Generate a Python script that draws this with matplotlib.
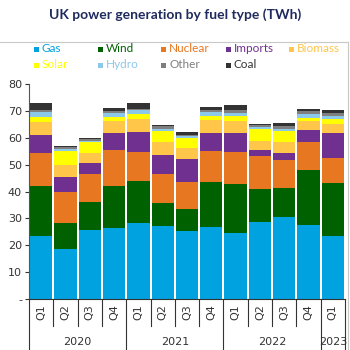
import numpy as np
import matplotlib.pyplot as plt
from matplotlib.patches import Rectangle
from matplotlib.lines import Line2D
import matplotlib.transforms as mtransforms

quarters = ["Q1", "Q2", "Q3", "Q4", "Q1", "Q2", "Q3", "Q4",
            "Q1", "Q2", "Q3", "Q4", "Q1"]
years = ["2020", "2021", "2022", "2023"]
quarters_per_year = [4, 4, 4, 1]

gas = [23.3, 18.7, 25.8, 26.5, 28.3, 27.0, 25.3, 26.7, 24.7, 28.5, 30.6, 27.4, 23.4]
wind = [18.9, 9.7, 10.4, 15.5, 15.5, 8.7, 8.2, 16.7, 18.2, 12.6, 10.8, 20.5, 19.8]
nuclear = [12.2, 11.4, 10.4, 13.4, 10.9, 10.8, 10.2, 11.8, 11.7, 12.0, 10.2, 10.6, 9.1]
imports = [6.6, 5.6, 4.1, 6.4, 7.3, 7.2, 8.4, 6.4, 7.0, 2.5, 2.6, 4.3, 9.5]
biomass = [4.9, 4.6, 3.7, 4.6, 5.0, 4.6, 4.1, 5.1, 4.5, 3.1, 4.1, 3.3, 3.4]
solar = [1.9, 5.2, 3.9, 1.2, 1.8, 4.3, 3.7, 1.5, 1.9, 4.6, 4.3, 1.4, 1.8]
hydro = [1.7, 0.6, 0.6, 1.6, 1.4, 0.8, 0.6, 1.4, 1.2, 0.7, 0.8, 1.2, 1.0]
other = [0.7, 0.6, 0.6, 0.8, 0.6, 0.8, 0.6, 0.8, 1.0, 0.6, 0.8, 1.1, 1.2]
coal = [2.8, 0.4, 0.4, 0.9, 2.0, 0.7, 1.2, 1.0, 2.0, 0.6, 1.2, 1.0, 1.0]

series = [
    ("Gas", gas, "#00A3E0"),
    ("Wind", wind, "#006100"),
    ("Nuclear", nuclear, "#E87722"),
    ("Imports", imports, "#70308F"),
    ("Biomass", biomass, "#FFC649"),
    ("Solar", solar, "#FFFF00"),
    ("Hydro", hydro, "#8CC8EA"),
    ("Other", other, "#7F7F7F"),
    ("Coal", coal, "#333333"),
]

fig = plt.figure(figsize=(3.5, 3.5), dpi=100)
ax = fig.add_axes([29 / 350, 1 - 299 / 350, 316 / 350, 215 / 350])

x = np.arange(len(quarters))
bottom = np.zeros(len(quarters))
for name, vals, col in series:
    ax.bar(x, vals, bottom=bottom, width=0.92, color=col, linewidth=0)
    bottom += np.array(vals)

ax.set_xlim(-0.5, len(quarters) - 0.5)
ax.set_ylim(0, 80)
ax.set_yticks(range(0, 81, 10))
ax.set_yticklabels(["-"] + [str(v) for v in range(10, 81, 10)])
ax.tick_params(axis="y", labelsize=8, colors="#333333", length=3, pad=2)
ax.set_xticks([])
for s in ["top", "right"]:
    ax.spines[s].set_visible(False)
ax.spines["left"].set_color("#555555")
ax.spines["bottom"].set_color("#333333")

# category axis underneath
trans = mtransforms.blended_transform_factory(ax.transData, ax.transAxes)
year_edges = np.concatenate([[0], np.cumsum(quarters_per_year)]) - 0.5
for b in np.arange(len(quarters) + 1) - 0.5:
    low = -0.237 if b in year_edges else -0.126
    ax.add_line(Line2D([b, b], [0, low], transform=trans, color="#333333",
                       lw=0.8, clip_on=False))
for i, q in enumerate(quarters):
    ax.text(i, -0.06, q, transform=trans, rotation=90, ha="center",
            va="center", fontsize=8, color="#333333")
for y, a, b in zip(years, year_edges[:-1], year_edges[1:]):
    ax.text((a + b) / 2, -0.198, y, transform=trans, ha="center",
            va="center", fontsize=8, color="#333333")

# title and frame
fig.text(0.5, 1 - 15 / 350, "UK power generation by fuel type (TWh)",
         ha="center", va="center", fontsize=10, fontweight="bold",
         family="Lato", color="#1F2A5E")
fig.add_artist(Line2D([0, 348 / 350], [1 - 42 / 350] * 2, color="#C8C8C8", lw=0.8))
fig.add_artist(Line2D([348 / 350] * 2, [1 - 42 / 350, 0], color="#C8C8C8", lw=0.8))

# legend
leg_x = [34, 98, 161, 226, 289]
leg_y = [49, 65]
for k, (name, vals, col) in enumerate(series):
    px = leg_x[k % 5]
    py = leg_y[k // 5]
    fig.add_artist(Rectangle((px / 350, 1 - (py + 2.5) / 350), 5 / 350, 5 / 350,
                             color=col, lw=0))
    fig.text((px + 8) / 350, 1 - py / 350, name, ha="left", va="center",
             fontsize=8.5, family="Lato", color=col)

fig.savefig("out.png", dpi=100)
